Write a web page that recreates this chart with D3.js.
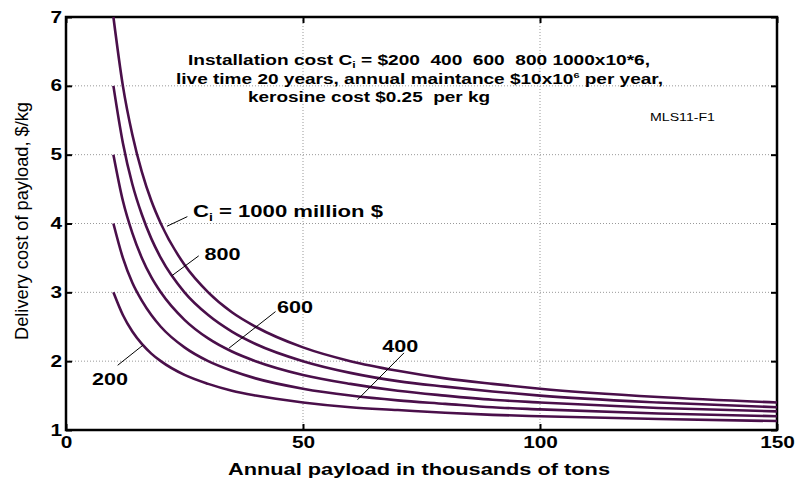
<!DOCTYPE html>
<html>
<head>
<meta charset="utf-8">
<script src="https://cdn.jsdelivr.net/npm/d3@7"></script>
<style>
  body { margin: 0; background: #fff; }
  text { font-family: "Liberation Sans", Arial, sans-serif; }
</style>
</head>
<body>
<script>
// Set dimensions
const width = 796, height = 479;
const margin = { top: 17, right: 19, bottom: 49, left: 66 };

// Data
const payload = [10, 12, 14, 16, 18, 20, 25, 30, 35, 40, 50, 60, 70, 80, 90, 100, 125, 150];
const cost200 = [3.00, 2.67, 2.43, 2.25, 2.11, 2.00, 1.80, 1.67, 1.57, 1.50, 1.40, 1.33, 1.29, 1.25, 1.22, 1.20, 1.16, 1.13];
const cost400 = [4.00, 3.50, 3.14, 2.88, 2.67, 2.50, 2.20, 2.00, 1.86, 1.75, 1.60, 1.50, 1.43, 1.38, 1.33, 1.30, 1.24, 1.20];
const cost600 = [5.00, 4.33, 3.86, 3.50, 3.22, 3.00, 2.60, 2.33, 2.14, 2.00, 1.80, 1.67, 1.57, 1.50, 1.44, 1.40, 1.32, 1.27];
const cost800 = [6.00, 5.17, 4.57, 4.13, 3.78, 3.50, 3.00, 2.67, 2.43, 2.25, 2.00, 1.83, 1.71, 1.63, 1.56, 1.50, 1.40, 1.33];
const cost1000 = [7.00, 6.00, 5.29, 4.75, 4.33, 4.00, 3.40, 3.00, 2.71, 2.50, 2.20, 2.00, 1.86, 1.75, 1.67, 1.60, 1.48, 1.40];
const seriesList = [cost200, cost400, cost600, cost800, cost1000];

const xTicks = [0, 50, 100, 150];
const yTicks = [1, 2, 3, 4, 5, 6, 7];

// Curve labels: text, label position (data units), leader line ends (data units)
const curveLabels = [
  { text: "200", at: [5.5, 1.66], from: [16.2, 2.23], to: [10.9, 1.94] },
  { text: "800", at: [29.2, 3.47], from: [22.3, 3.24], to: [28, 3.53] },
  { text: "600", at: [44.5, 2.70], from: [34.4, 2.19], to: [44.2, 2.72] },
  { text: "400", at: [66.7, 2.14], from: [61.5, 1.44], to: [71.3, 2.12] }
];

const svg = d3.select("body").append("svg")
    .attr("width", width)
    .attr("height", height);

const x = d3.scaleLinear().domain([0, 150]).range([margin.left, width - margin.right]);
const y = d3.scaleLinear().domain([1, 7]).range([height - margin.bottom, margin.top]);

// stretch a text horizontally, either to a width or by a factor
function stretch(sel, w, f) {
  sel.each(function() {
    const len = w || this.getComputedTextLength() * f;
    d3.select(this).attr("textLength", len).attr("lengthAdjust", "spacingAndGlyphs");
  });
}

// Dotted grid
svg.append("g").selectAll("line")
    .data(xTicks.slice(1, -1))
    .join("line")
    .attr("x1", d => x(d)).attr("x2", d => x(d))
    .attr("y1", y(7)).attr("y2", y(1))
    .attr("stroke", "#999").attr("stroke-width", 1).attr("stroke-dasharray", "1,2");
svg.append("g").selectAll("line")
    .data(yTicks.slice(1, -1))
    .join("line")
    .attr("x1", x(0)).attr("x2", x(150))
    .attr("y1", d => y(d)).attr("y2", d => y(d))
    .attr("stroke", "#999").attr("stroke-width", 1).attr("stroke-dasharray", "1,2");

// Axes with inward ticks
const axisFont = g => g.selectAll("text")
    .attr("font-family", "Liberation Sans, Arial, sans-serif")
    .attr("font-size", 16).attr("font-weight", "bold").attr("fill", "#000");

const xAxis = svg.append("g")
    .attr("transform", `translate(0,${y(1)})`)
    .call(d3.axisBottom(x).tickValues(xTicks).tickSize(-6).tickPadding(7))
    .call(g => g.select(".domain").remove())
    .call(g => g.selectAll("line").attr("stroke-width", 2))
    .call(axisFont);
svg.append("g")
    .attr("transform", `translate(0,${y(7)})`)
    .call(d3.axisTop(x).tickValues(xTicks).tickSize(-6).tickFormat(""))
    .call(g => g.select(".domain").remove())
    .call(g => g.selectAll("line").attr("stroke-width", 2));
const yAxis = svg.append("g")
    .attr("transform", `translate(${x(0)},0)`)
    .call(d3.axisLeft(y).tickValues(yTicks).tickSize(-6).tickPadding(4).tickFormat(d3.format("d")))
    .call(g => g.select(".domain").remove())
    .call(g => g.selectAll("line").attr("stroke-width", 2))
    .call(axisFont);
svg.append("g")
    .attr("transform", `translate(${x(150)},0)`)
    .call(d3.axisRight(y).tickValues(yTicks).tickSize(-6).tickFormat(""))
    .call(g => g.select(".domain").remove())
    .call(g => g.selectAll("line").attr("stroke-width", 2));
stretch(xAxis.selectAll("text"), 0, 1.3);
stretch(yAxis.selectAll("text"), 0, 1.3);

// Frame
svg.append("rect")
    .attr("x", x(0)).attr("y", y(7))
    .attr("width", x(150) - x(0)).attr("height", y(1) - y(7))
    .attr("fill", "none").attr("stroke", "#000").attr("stroke-width", 2.5);

// Curves
const line = d3.line()
    .x((d, i) => x(payload[i]))
    .y(d => y(d))
    .curve(d3.curveMonotoneX);

svg.append("g").selectAll("path")
    .data(seriesList)
    .join("path")
    .attr("d", line)
    .attr("fill", "none")
    .attr("stroke", "#4a0f4a")
    .attr("stroke-width", 2.6);

// Leader lines and labels
svg.append("g").selectAll("line")
    .data(curveLabels)
    .join("line")
    .attr("x1", d => x(d.from[0])).attr("y1", d => y(d.from[1]))
    .attr("x2", d => x(d.to[0])).attr("y2", d => y(d.to[1]))
    .attr("stroke", "#000").attr("stroke-width", 1);
svg.append("g").selectAll("text")
    .data(curveLabels)
    .join("text")
    .attr("x", d => x(d.at[0])).attr("y", d => y(d.at[1]))
    .attr("font-size", 16).attr("font-weight", "bold")
    .text(d => d.text)
    .call(s => stretch(s, 36));

// Ci = 1000 million $ label
svg.append("line")
    .attr("x1", x(21.3)).attr("y1", y(3.96))
    .attr("x2", x(25.6)).attr("y2", y(4.1))
    .attr("stroke", "#000").attr("stroke-width", 1);
const ci = svg.append("text")
    .attr("x", 193).attr("y", 217)
    .attr("font-size", 16).attr("font-weight", "bold");
ci.append("tspan").text("C");
ci.append("tspan").attr("font-size", 10).attr("dy", 4).text("i");
ci.append("tspan").attr("dy", -4).text(" = 1000 million $");
stretch(ci, 190);

// Header text
const h1 = svg.append("text").attr("x", 188).attr("y", 65)
    .attr("font-size", 14).attr("font-weight", "bold")
    .attr("xml:space", "preserve");
h1.append("tspan").text("Installation cost C");
h1.append("tspan").attr("font-size", 9).attr("dy", 3).text("i");
h1.append("tspan").attr("dy", -3).text(" = $200  400  600  800 1000x10*6,");
stretch(h1, 462);

const h2 = svg.append("text").attr("x", 176).attr("y", 84)
    .attr("font-size", 14).attr("font-weight", "bold");
h2.append("tspan").text("live time 20 years, annual maintance $10x10");
h2.append("tspan").attr("font-size", 8).attr("dy", -6).text("6");
h2.append("tspan").attr("dy", 6).text(" per year,");
stretch(h2, 487);

svg.append("text").attr("x", 248).attr("y", 102)
    .attr("font-size", 14).attr("font-weight", "bold")
    .attr("xml:space", "preserve")
    .text("kerosine cost $0.25  per kg")
    .call(s => stretch(s, 242));

svg.append("text").attr("x", 650).attr("y", 121)
    .attr("font-size", 11)
    .text("MLS11-F1")
    .call(s => stretch(s, 65));

// Axis titles
svg.append("text")
    .attr("x", 419).attr("y", 475)
    .attr("text-anchor", "middle")
    .attr("font-size", 16).attr("font-weight", "bold")
    .text("Annual payload in thousands of tons")
    .call(s => stretch(s, 382));

svg.append("text")
    .attr("transform", "translate(28,221) rotate(-90)")
    .attr("text-anchor", "middle")
    .attr("font-size", 18)
    .text("Delivery cost of payload, $/kg")
    .call(s => stretch(s, 238));
</script>
</body>
</html>
